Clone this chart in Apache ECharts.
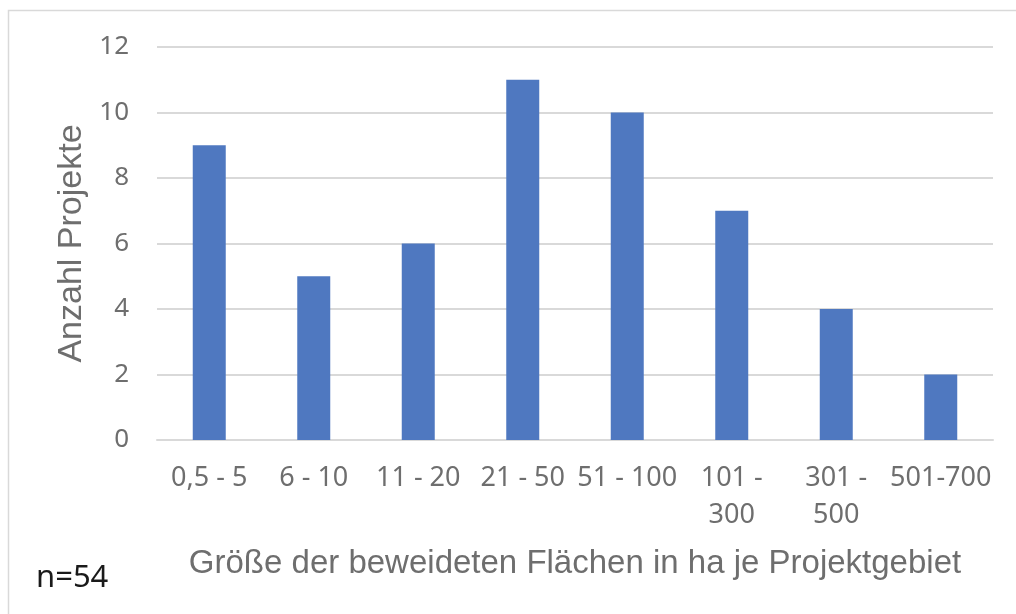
<!DOCTYPE html>
<html><head><meta charset="utf-8">
<script src="https://cdn.jsdelivr.net/npm/echarts@6/dist/echarts.min.js"></script>
<style>html,body{margin:0;padding:0;background:#fff}#c{width:1016px;height:614px}</style>
</head><body><div id="c"></div>
<script>
const categories = ["0,5 - 5", "6 - 10", "11 - 20", "21 - 50", "51 - 100", "101 -\n300", "301 -\n500", "501-700"];
const projectCounts = [9, 5, 6, 11, 10, 7, 4, 2];
const yTicks = { min: 0, max: 12, interval: 2 };
const yAxisTitle = "Anzahl Projekte";
const xAxisTitle = "Größe der beweideten Flächen in ha je Projektgebiet";
const noteText = "n=54";

const chart = echarts.init(document.getElementById('c'), null, {renderer: 'canvas'});
chart.setOption({
  animation: false,
  backgroundColor: '#ffffff',
  grid: { left: 157, right: 23, top: 47, bottom: 174, containLabel: false },
  xAxis: {
    type: 'category',
    data: categories,
    axisLine: { show: true, lineStyle: { color: '#d9d9d9', width: 2 } },
    axisTick: { show: false },
    axisLabel: { interval: 0, color: '#6e6e6e', fontFamily: 'Noto Sans', fontSize: 27, margin: 20, lineHeight: 37 },
    name: xAxisTitle,
    nameLocation: 'middle',
    nameGap: 107,
    nameTextStyle: { color: '#6e6e6e', fontFamily: 'Liberation Sans', fontSize: 33 }
  },
  yAxis: {
    type: 'value',
    min: yTicks.min, max: yTicks.max, interval: yTicks.interval,
    axisLine: { show: false },
    axisTick: { show: false },
    splitLine: { lineStyle: { color: '#d9d9d9', width: 2 } },
    axisLabel: { color: '#6e6e6e', fontFamily: 'Noto Sans', fontSize: 26, margin: 28 },
    name: yAxisTitle,
    nameLocation: 'middle',
    nameGap: 58,
    nameRotate: 90,
    nameTextStyle: { color: '#6e6e6e', fontFamily: 'Liberation Sans', fontSize: 34 }
  },
  series: [{
    type: 'bar',
    data: projectCounts,
    barWidth: 33,
    itemStyle: { color: '#4f78c0' }
  }],
  graphic: [
    { type: 'rect', shape: { x: 8.5, y: 10.5, width: 1030, height: 640 }, style: { fill: 'none', stroke: '#d9d9d9', lineWidth: 1.5 }, z: -1 },
    { type: 'text', left: 36, top: 563, style: { text: noteText, fill: '#1a1a1a', font: '31px "Noto Sans"' } }
  ]
});
</script></body></html>
